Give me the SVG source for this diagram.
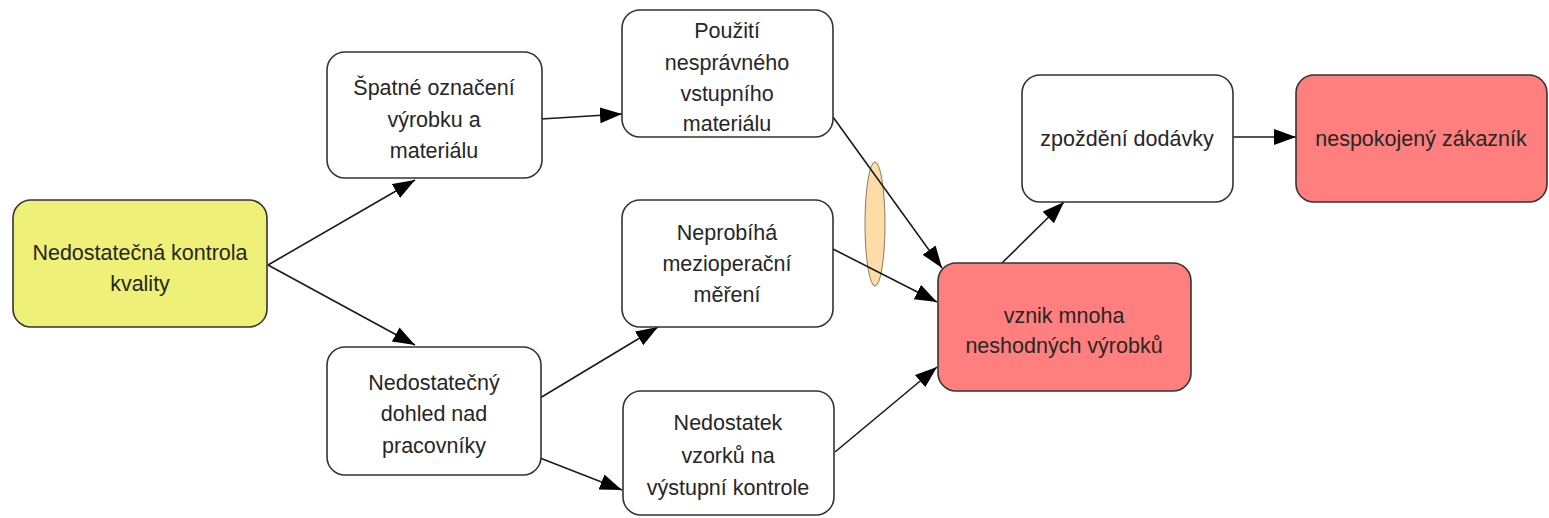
<svg xmlns="http://www.w3.org/2000/svg" width="1549" height="518" viewBox="0 0 1549 518">
<style>
.n rect{stroke:#333;stroke-width:1.6}
.w rect{fill:#fff}
.r rect{fill:#ff7f7f}
.y rect{fill:#eef078}
text{font-family:"Liberation Sans",Arial,sans-serif;font-size:21.5px;fill:#262626;text-anchor:middle}
.e line{stroke:#1a1a1a;stroke-width:1.6;marker-end:url(#ah)}
</style>
<defs>
<marker id="ah" markerUnits="userSpaceOnUse" markerWidth="24" markerHeight="18" refX="22" refY="8" orient="auto" viewBox="0 0 24 18">
<path d="M0,0 L22,8 L0,16 z" fill="#000"/>
</marker>
</defs>
<rect width="1549" height="518" fill="#fff"/>
<ellipse cx="875" cy="224" rx="10" ry="62" fill="#fddca8" stroke="#8a7a60" stroke-width="1"/>
<g id="connectors" class="e">
<line x1="268" y1="265" x2="415" y2="180"/>
<line x1="268" y1="265" x2="415" y2="345"/>
<line x1="541" y1="119" x2="622" y2="114"/>
<line x1="833" y1="117" x2="942" y2="268"/>
<line x1="833" y1="249" x2="937" y2="302"/>
<line x1="540" y1="398" x2="658" y2="327"/>
<line x1="540" y1="458" x2="622" y2="490"/>
<line x1="835" y1="452" x2="937" y2="367"/>
<line x1="1002" y1="263" x2="1064" y2="202"/>
<line x1="1233" y1="137" x2="1296" y2="137"/>
</g>
<g id="n1" class="n y"><rect x="13" y="200" width="254" height="127" rx="18"/>
<text x="140" y="260">Nedostatečná kontrola</text><text x="140" y="291">kvality</text></g>
<g id="n2" class="n w"><rect x="327" y="52" width="215" height="126" rx="18"/>
<text x="434" y="95">Špatné označení</text><text x="434" y="127">výrobku a</text><text x="434" y="158">materiálu</text></g>
<g id="n3" class="n w"><rect x="622" y="10" width="211" height="127" rx="18"/>
<text x="727" y="38">Použití</text><text x="727" y="70">nesprávného</text><text x="727" y="101">vstupního</text><text x="727" y="131">materiálu</text></g>
<g id="n4" class="n w"><rect x="622" y="200" width="211" height="127" rx="18"/>
<text x="727" y="240">Neprobíhá</text><text x="727" y="271">mezioperační</text><text x="727" y="302">měření</text></g>
<g id="n5" class="n w"><rect x="327" y="347" width="214" height="128" rx="18"/>
<text x="434" y="390">Nedostatečný</text><text x="434" y="421">dohled nad</text><text x="434" y="453">pracovníky</text></g>
<g id="n6" class="n w"><rect x="623" y="391" width="211" height="124" rx="18"/>
<text x="728" y="430">Nedostatek</text><text x="728" y="463">vzorků na</text><text x="728" y="495">výstupní kontrole</text></g>
<g id="n7" class="n r"><rect x="938" y="263" width="253" height="128" rx="18"/>
<text x="1064" y="323">vznik mnoha</text><text x="1064" y="353">neshodných výrobků</text></g>
<g id="n8" class="n w"><rect x="1022" y="75" width="211" height="127" rx="18"/>
<text x="1127" y="146">zpoždění dodávky</text></g>
<g id="n9" class="n r"><rect x="1296" y="75" width="251" height="127" rx="18"/>
<text x="1421" y="146">nespokojený zákazník</text></g>
</svg>
